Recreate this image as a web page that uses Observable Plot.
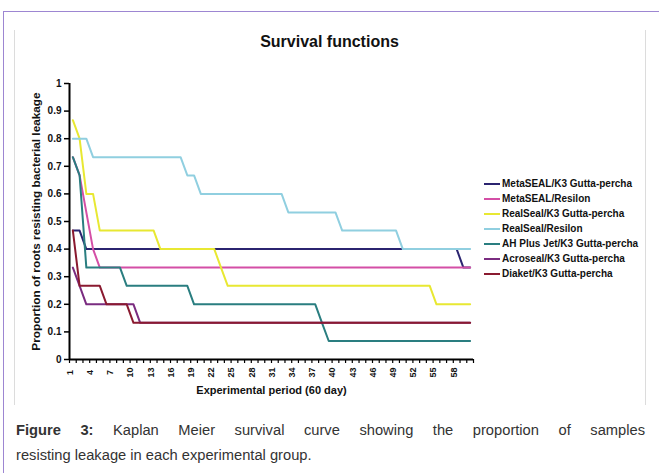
<!DOCTYPE html>
<html><head><meta charset="utf-8">
<script src="https://cdn.jsdelivr.net/npm/d3@7"></script>
<script src="https://cdn.jsdelivr.net/npm/@observablehq/plot@0.6"></script>
<style>
body{margin:0;background:#fff;width:659px;height:473px;overflow:hidden;position:relative;font-family:"Liberation Sans",Arial,sans-serif}
#frame{position:absolute;left:3px;top:11px;width:700px;height:500px;border-left:1.5px solid #9d86d2;border-top:1.5px solid #9d86d2}
#box{position:absolute;left:14px;top:30px;width:630px;height:375px;border-left:1px solid #dcdcdc;border-right:1px solid #dcdcdc}
#title{position:absolute;left:14px;width:631px;top:33px;text-align:center;font-weight:bold;font-size:16px;color:#111}
#chart{position:absolute;left:0;top:0}
#legend{position:absolute;left:484px;top:176px;font-weight:bold;font-size:10px;color:#111}
.li{display:flex;align-items:center;height:15px;white-space:nowrap}
.sw{width:16px;height:2px;margin-right:2px}
#cap1{position:absolute;left:16px;top:418px;width:629px;font-size:14.7px;line-height:25px;color:#333;text-align:justify;text-align-last:justify;white-space:nowrap}
#cap2{position:absolute;left:16px;top:443px;font-size:14.7px;line-height:25px;color:#333}
</style></head>
<body>
<div id="frame"></div>
<div id="box"></div>
<div id="title"></div>
<div id="chart"></div>
<div id="legend"></div>
<div id="cap1"></div>
<div id="cap2"></div>
<script>
const titleText = "Survival functions";
const yTitle = "Proportion of roots resisting bacterial leakage";
const xTitle = "Experimental period (60 day)";
const days = d3.range(1, 61);
const seriesNames = ["MetaSEAL/K3 Gutta-percha","MetaSEAL/Resilon","RealSeal/K3 Gutta-percha","RealSeal/Resilon","AH Plus Jet/K3 Gutta-percha","Acroseal/K3 Gutta-percha","Diaket/K3 Gutta-percha"];
const seriesColors = ["#2b2470","#d44fa6","#e8e832","#90cfe0","#2a7e80","#7a2c80","#8a1a30"];
const yTicks = [0,0.1,0.2,0.3,0.4,0.5,0.6,0.7,0.8,0.9,1];
const yTickLabels = ["0","0.1","0.2","0.3","0.4","0.5","0.6","0.7","0.8","0.9","1"];
const xTickLabels = [1,4,7,10,13,16,19,22,25,28,31,34,37,40,43,46,49,52,55,58];

const metaK3 = [0.467,0.467,0.4,0.4,0.4,0.4,0.4,0.4,0.4,0.4,
0.4,0.4,0.4,0.4,0.4,0.4,0.4,0.4,0.4,0.4,
0.4,0.4,0.4,0.4,0.4,0.4,0.4,0.4,0.4,0.4,
0.4,0.4,0.4,0.4,0.4,0.4,0.4,0.4,0.4,0.4,
0.4,0.4,0.4,0.4,0.4,0.4,0.4,0.4,0.4,0.4,
0.4,0.4,0.4,0.4,0.4,0.4,0.4,0.4,0.333,0.333];
const metaResilon = [0.733,0.667,0.533,0.4,0.333,0.333,0.333,0.333,0.333,0.333,
0.333,0.333,0.333,0.333,0.333,0.333,0.333,0.333,0.333,0.333,
0.333,0.333,0.333,0.333,0.333,0.333,0.333,0.333,0.333,0.333,
0.333,0.333,0.333,0.333,0.333,0.333,0.333,0.333,0.333,0.333,
0.333,0.333,0.333,0.333,0.333,0.333,0.333,0.333,0.333,0.333,
0.333,0.333,0.333,0.333,0.333,0.333,0.333,0.333,0.333,0.333];
const realK3 = [0.867,0.8,0.6,0.6,0.467,0.467,0.467,0.467,0.467,0.467,
0.467,0.467,0.467,0.4,0.4,0.4,0.4,0.4,0.4,0.4,
0.4,0.4,0.333,0.267,0.267,0.267,0.267,0.267,0.267,0.267,
0.267,0.267,0.267,0.267,0.267,0.267,0.267,0.267,0.267,0.267,
0.267,0.267,0.267,0.267,0.267,0.267,0.267,0.267,0.267,0.267,
0.267,0.267,0.267,0.267,0.2,0.2,0.2,0.2,0.2,0.2];
const realResilon = [0.8,0.8,0.8,0.733,0.733,0.733,0.733,0.733,0.733,0.733,
0.733,0.733,0.733,0.733,0.733,0.733,0.733,0.667,0.667,0.6,
0.6,0.6,0.6,0.6,0.6,0.6,0.6,0.6,0.6,0.6,
0.6,0.6,0.533,0.533,0.533,0.533,0.533,0.533,0.533,0.533,
0.467,0.467,0.467,0.467,0.467,0.467,0.467,0.467,0.467,0.4,
0.4,0.4,0.4,0.4,0.4,0.4,0.4,0.4,0.4,0.4];
const ahPlus = [0.733,0.667,0.333,0.333,0.333,0.333,0.333,0.333,0.267,0.267,
0.267,0.267,0.267,0.267,0.267,0.267,0.267,0.267,0.2,0.2,
0.2,0.2,0.2,0.2,0.2,0.2,0.2,0.2,0.2,0.2,
0.2,0.2,0.2,0.2,0.2,0.2,0.2,0.133,0.067,0.067,
0.067,0.067,0.067,0.067,0.067,0.067,0.067,0.067,0.067,0.067,
0.067,0.067,0.067,0.067,0.067,0.067,0.067,0.067,0.067,0.067];
const acroseal = [0.333,0.267,0.2,0.2,0.2,0.2,0.2,0.2,0.2,0.2,
0.133,0.133,0.133,0.133,0.133,0.133,0.133,0.133,0.133,0.133,
0.133,0.133,0.133,0.133,0.133,0.133,0.133,0.133,0.133,0.133,
0.133,0.133,0.133,0.133,0.133,0.133,0.133,0.133,0.133,0.133,
0.133,0.133,0.133,0.133,0.133,0.133,0.133,0.133,0.133,0.133,
0.133,0.133,0.133,0.133,0.133,0.133,0.133,0.133,0.133,0.133];
const diaket = [0.467,0.267,0.267,0.267,0.267,0.2,0.2,0.2,0.2,0.133,
0.133,0.133,0.133,0.133,0.133,0.133,0.133,0.133,0.133,0.133,
0.133,0.133,0.133,0.133,0.133,0.133,0.133,0.133,0.133,0.133,
0.133,0.133,0.133,0.133,0.133,0.133,0.133,0.133,0.133,0.133,
0.133,0.133,0.133,0.133,0.133,0.133,0.133,0.133,0.133,0.133,
0.133,0.133,0.133,0.133,0.133,0.133,0.133,0.133,0.133,0.133];
const seriesValues = [metaK3, metaResilon, realK3, realResilon, ahPlus, acroseal, diaket];

document.getElementById("title").textContent = titleText;

const lineMarks = seriesValues.map((vals, s) =>
  Plot.line(days.map((d, i) => ({day: d, value: vals[i], group: seriesNames[s]})),
    {x: "day", y: "value", stroke: seriesColors[s], strokeWidth: 2})
);
const boundaries = d3.range(0.5, 61, 1);

const chart = Plot.plot({
  width: 659, height: 410,
  marginLeft: 69, marginRight: 186, marginTop: 83, marginBottom: 51,
  style: {fontFamily: "'Liberation Sans', Arial, sans-serif", fontWeight: "bold", color: "#111", background: "transparent"},
  x: {type: "linear", domain: [0.5, 60.5], axis: null},
  y: {domain: [0, 1], axis: null},
  marks: [
    ...lineMarks,
    Plot.axisY({ticks: yTicks, tickFormat: (d, i) => yTickLabels[i], label: null, tickSize: 5, tickPadding: 3, fontSize: 10, stroke: "#000", strokeWidth: 1.5}),
    Plot.axisX({ticks: boundaries, tickFormat: () => "", label: null, tickSize: 4, stroke: "#000", strokeWidth: 1.2}),
    Plot.ruleX([0.5], {stroke: "#000", strokeWidth: 2}),
    Plot.ruleY([0], {stroke: "#000", strokeWidth: 2}),
    Plot.text(xTickLabels, {x: d => d, text: d => String(d), frameAnchor: "bottom", dy: 13, rotate: -90, textAnchor: "middle", fontSize: 9, fill: "#111"}),
    Plot.text([yTitle], {frameAnchor: "left", dx: -33, rotate: -90, textAnchor: "middle", fontSize: 11.8, fill: "#111"}),
    Plot.text([xTitle], {frameAnchor: "bottom", dy: 34, textAnchor: "middle", fontSize: 11, fill: "#111"})
  ]
});
document.getElementById("chart").appendChild(chart);

const legend = document.getElementById("legend");
seriesNames.forEach((n, i) => {
  const row = document.createElement("div");
  row.className = "li";
  const sw = document.createElement("span");
  sw.className = "sw";
  sw.style.background = seriesColors[i];
  const tx = document.createElement("span");
  tx.textContent = n;
  row.appendChild(sw); row.appendChild(tx);
  legend.appendChild(row);
});

document.getElementById("cap1").innerHTML = "<b>Figure 3:</b> Kaplan Meier survival curve showing the proportion of samples";
document.getElementById("cap2").textContent = "resisting leakage in each experimental group.";
</script>
</body></html>
